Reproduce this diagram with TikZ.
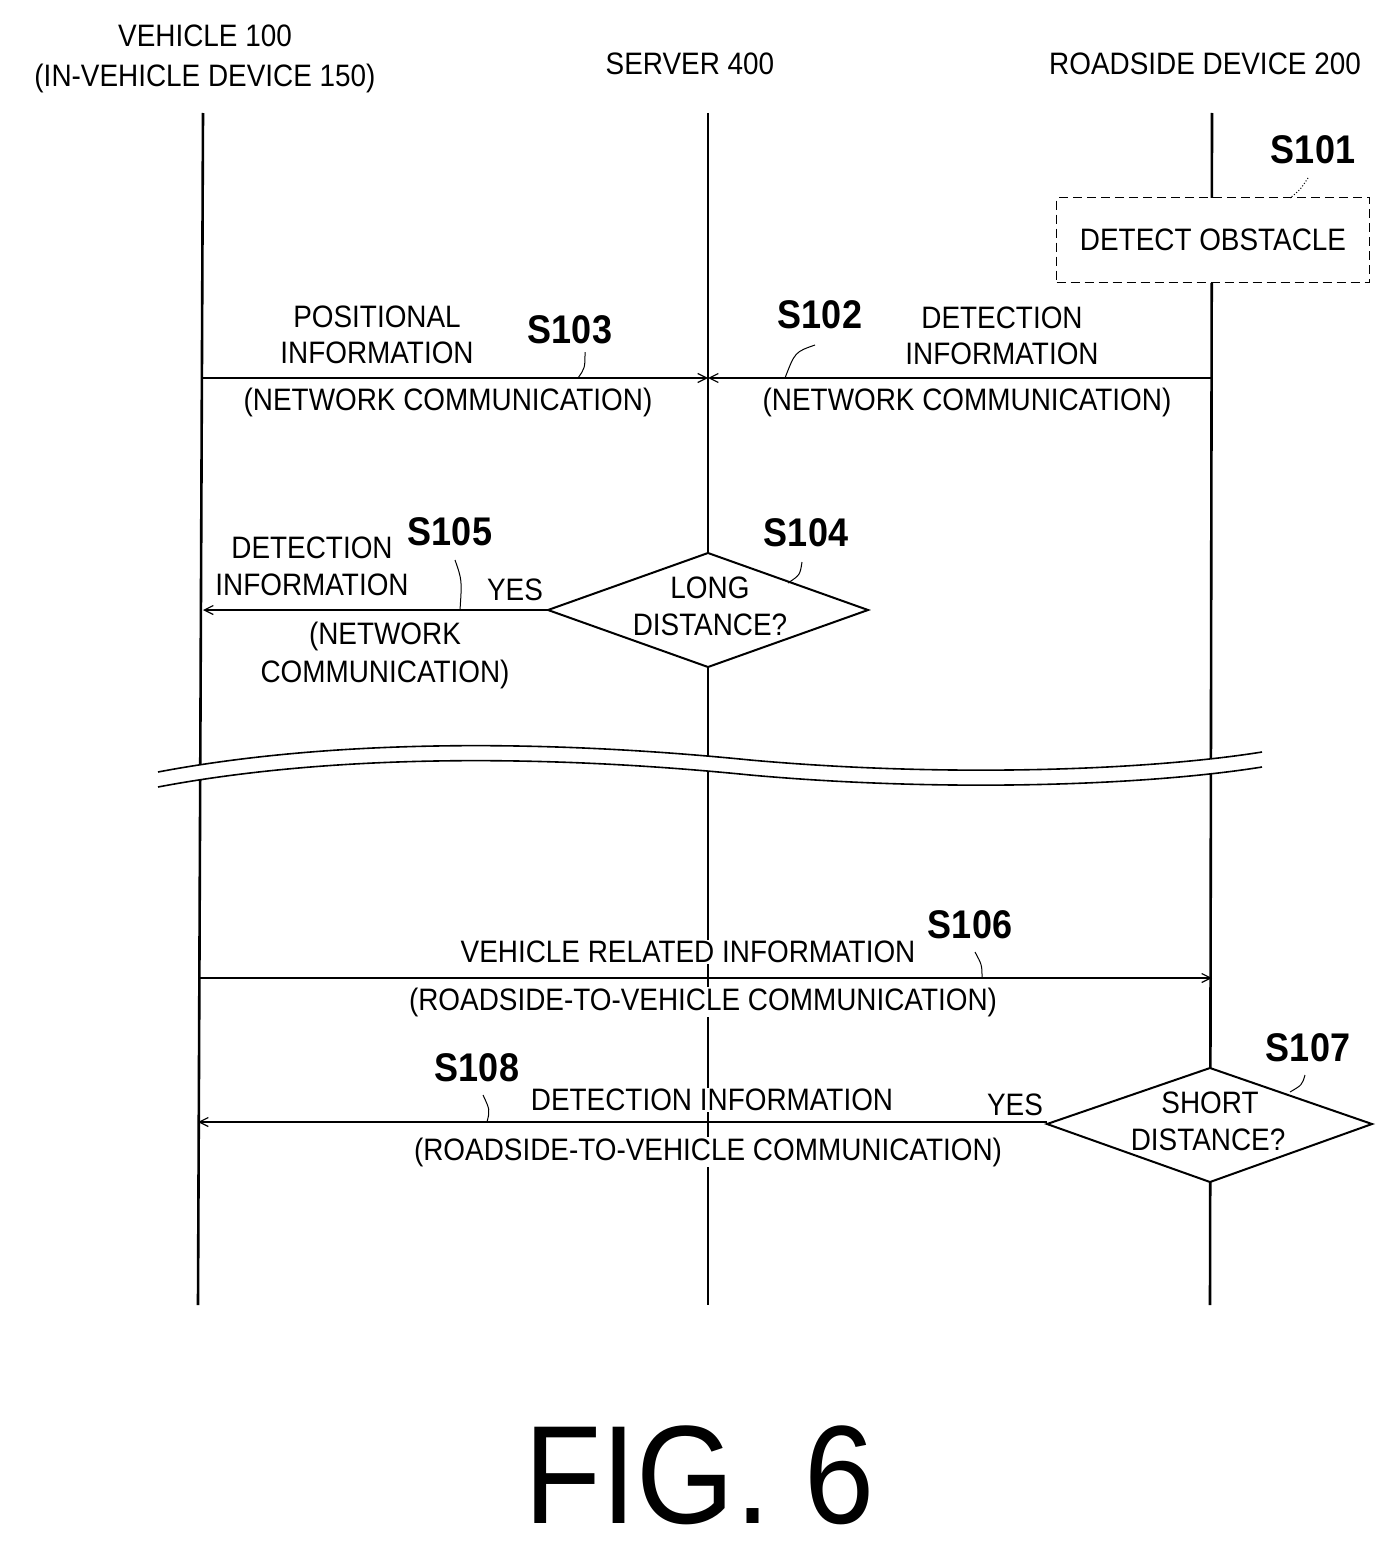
\documentclass[tikz,border=0pt]{standalone}
\usepackage{fontspec}
\usetikzlibrary{arrows.meta}
\setmainfont{Liberation Sans}[FakeStretch=0.9]
\begin{document}
\begin{tikzpicture}[x=1pt,y=-1pt,
  life/.style={line width=2.6pt},
  msg/.style={line width=1.2pt,-{Straight Barb[length=9pt,width=9pt]}},
  t/.style={font=\fontsize{31}{36}\selectfont,inner sep=1pt,fill=white},
  tn/.style={font=\fontsize{31}{36}\selectfont,inner sep=1pt},
  s/.style={font=\fontsize{40}{44}\selectfont\bfseries,inner sep=1pt},
  lead/.style={line width=1pt},
  dia/.style={line width=2pt,fill=white}]
\useasboundingbox (0,0) rectangle (1397,1552);
% lifelines
\coordinate (v0) at (203,113); \coordinate (v1) at (198,1305);
\coordinate (s0) at (708,113); \coordinate (s1) at (708,1305);
\coordinate (r0) at (1212,113); \coordinate (r1) at (1210,1305);
\draw[life] (v0)--(v1); \draw[life] (s0)--(s1); \draw[life] (r0)--(r1);
% headers
\node[tn] (h1) at (205,36) {VEHICLE 100};
\node[tn] (h2) at (205,78) {(IN-VEHICLE DEVICE 150)};
\node[tn] (h3) at (690,64) {SERVER 400};
\node[tn] (h4) at (1205,64) {ROADSIDE DEVICE 200};
% S101
\node[s] (s101) at (1313,150) {S101};
\node[t,draw,dash pattern=on 9pt off 5pt,line width=1.8pt,minimum width=313pt,minimum height=85pt] (det) at (1213,240) {DETECT OBSTACLE};
\draw[lead,dotted] (1308,178) .. controls (1300,190) .. (1290,198);
% S102/S103 arrows
\coordinate (a103) at (203,378); \coordinate (m) at (708,378); \coordinate (a102) at (1212,378);
\draw[msg] (a103) -- (m);
\draw[msg] (a102) -- (m);
\node[tn] (p1) at (377,317) {POSITIONAL};
\node[tn] (p2) at (377,353) {INFORMATION};
\node[s] (s103) at (570,330) {S103};
\node[t] (p3) at (448,402) {(NETWORK COMMUNICATION)};
\node[s] (s102) at (820,315) {S102};
\node[tn] (d1) at (1002,318) {DETECTION};
\node[tn] (d2) at (1002,354) {INFORMATION};
\node[t] (d3) at (967,402) {(NETWORK COMMUNICATION)};
\draw[lead] (585,352) .. controls (585,368) .. (578,378);
\draw[lead] (815,345) .. controls (795,352) .. (785,378);
% S104
\draw[dia] (548,610) -- (708,553) -- (868,610) -- (708,667) -- cycle;
\coordinate (d104l) at (548,610);
\node[tn] (l1) at (710,588) {LONG};
\node[tn] (l2) at (710,625) {DISTANCE?};
\node[s] (s104) at (806,533) {S104};
\draw[lead] (802,562) .. controls (800,575) .. (788,583);
\draw[msg] (d104l) -- (203,610);
\node[tn] (y1) at (515,590) {YES};
\node[tn] (e1) at (312,548) {DETECTION};
\node[tn] (e2) at (312,585) {INFORMATION};
\node[s] (s105) at (450,532) {S105};
\draw[lead] (455,560) .. controls (462,580) .. (460,610);
\node[tn] (e3) at (385,636) {(NETWORK};
\node[tn] (e4) at (385,674) {COMMUNICATION)};
% break
\fill[white] (158,772) .. controls (300,745) and (500,735) .. (750,760) .. controls (950,778) and (1150,770) .. (1262,752)
  -- (1262,767) .. controls (1150,785) and (950,793) .. (750,775) .. controls (500,750) and (300,760) .. (158,787) -- cycle;
\draw[line width=1.6pt] (158,772) .. controls (300,745) and (500,735) .. (750,760) .. controls (950,778) and (1150,770) .. (1262,752);
\draw[line width=1.6pt] (158,787) .. controls (300,760) and (500,750) .. (750,775) .. controls (950,793) and (1150,785) .. (1262,767);
% S106
\draw[msg] (200,978) -- (1212,978);
\node[t] (vr) at (688,952) {VEHICLE RELATED INFORMATION};
\node[s] (s106) at (970,925) {S106};
\draw[lead] (975,952) .. controls (982,965) .. (982,978);
\node[t] (vr2) at (703,1002) {(ROADSIDE-TO-VEHICLE COMMUNICATION)};
% S107
\draw[dia] (1047,1124) -- (1210,1068) -- (1372,1124) -- (1210,1182) -- cycle;
\coordinate (d107l) at (1047,1122);
\node[tn] (k1) at (1210,1103) {SHORT};
\node[tn] (k2) at (1208,1140) {DISTANCE?};
\node[s] (s107) at (1308,1048) {S107};
\draw[lead] (1305,1075) .. controls (1302,1085) .. (1290,1092);
\draw[msg] (d107l) -- (198,1122);
\node[tn] (y2) at (1015,1105) {YES};
\node[s] (s108) at (477,1068) {S108};
\draw[lead] (483,1095) .. controls (490,1110) .. (487,1122);
\node[t] (di) at (712,1100) {DETECTION INFORMATION};
\node[t] (di2) at (708,1152) {(ROADSIDE-TO-VEHICLE COMMUNICATION)};
% figure label
\node[tn,font=\fontsize{140}{150}\selectfont] (fig) at (700,1475) {FIG. 6};
\end{tikzpicture}
\end{document}
